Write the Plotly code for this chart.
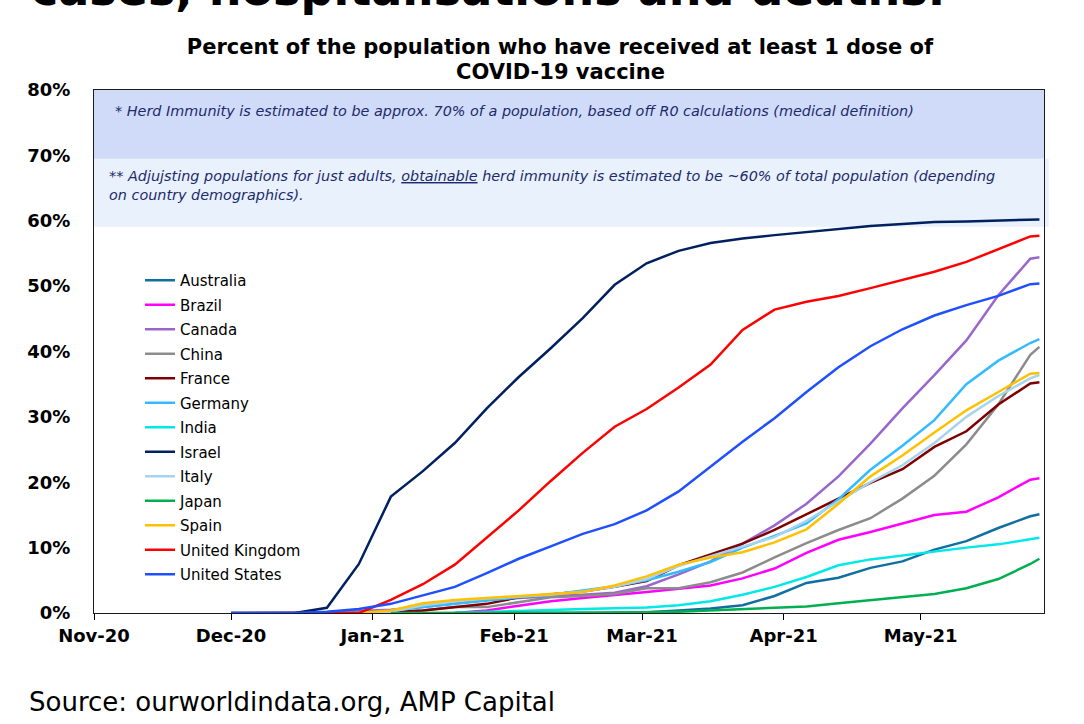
"""Share of population with at least one COVID-19 vaccine dose, by country."""

from __future__ import annotations

import plotly.graph_objects as go

# weekly readings, percent of total population
DATES = [
    "2020-12-01", "2020-12-08", "2020-12-15", "2020-12-22", "2020-12-29",
    "2021-01-05", "2021-01-12", "2021-01-19", "2021-01-26", "2021-02-02",
    "2021-02-09", "2021-02-16", "2021-02-23", "2021-03-02", "2021-03-09",
    "2021-03-16", "2021-03-23", "2021-03-30", "2021-04-06", "2021-04-13",
    "2021-04-20", "2021-04-27", "2021-05-04", "2021-05-11", "2021-05-18",
    "2021-05-25", "2021-05-27",
]
N = None

AUSTRALIA = [N] * 12 + [0.0, 0.1, 0.4, 0.7, 1.2, 2.6, 4.6, 5.4, 6.9, 7.9, 9.7, 11.0, 13.0, 14.8, 15.1]
BRAZIL = [N] * 7 + [0.0, 0.4, 1.1, 1.8, 2.3, 2.7, 3.2, 3.7, 4.2, 5.3, 6.8, 9.2, 11.2, 12.4, 13.7,
                    15.0, 15.5, 17.7, 20.4, 20.6]
CANADA = [0.0, 0.0, 0.01, 0.1, 0.3, 0.5, 0.9, 1.5, 2.0, 2.3, 2.5, 2.8, 3.1, 4.1, 5.9, 7.9, 10.6,
          13.4, 16.7, 20.9, 25.9, 31.3, 36.4, 41.7, 48.6, 54.2, 54.4]
CHINA = [N, N, 0.0, 0.05, 0.1, 0.2, 0.4, 0.9, 0.9, 1.7, 2.4, 2.6, 2.9, 3.8, 3.8, 4.7, 6.2, 8.5,
         10.7, 12.7, 14.5, 17.5, 21.0, 25.8, 31.9, 39.5, 40.7]
FRANCE = [N] * 4 + [0.0, 0.1, 0.4, 0.9, 1.4, 2.4, 2.9, 3.3, 4.0, 4.9, 7.3, 9.0, 10.6, 12.7, 15.1,
                    17.5, 19.9, 22.0, 25.4, 27.8, 31.9, 35.1, 35.3]
GERMANY = [N] * 4 + [0.05, 0.3, 0.9, 1.4, 2.0, 2.4, 2.8, 3.4, 4.1, 5.0, 6.3, 7.8, 10.0, 11.8,
                     13.7, 17.4, 21.9, 25.6, 29.5, 35.0, 38.6, 41.3, 41.9]
INDIA = [N] * 7 + [0.05, 0.15, 0.3, 0.45, 0.6, 0.7, 0.85, 1.2, 1.8, 2.8, 4.0, 5.5, 7.3, 8.2, 8.8,
                   9.5, 10.0, 10.5, 11.3, 11.5]
ISRAEL = [0.0, 0.0, 0.0, 0.8, 7.5, 17.8, 21.7, 26.0, 31.3, 36.1, 40.5, 45.1, 50.2, 53.5, 55.4,
          56.6, 57.3, 57.8, 58.3, 58.8, 59.2, 59.5, 59.8, 59.9, 60.0, 60.1, 60.2]
ITALY = [N] * 4 + [0.02, 0.2, 1.2, 1.8, 2.2, 2.5, 2.8, 3.3, 4.0, 5.2, 7.2, 8.7, 10.2, 11.6, 14.1,
                   17.1, 20.0, 22.6, 26.0, 30.0, 33.2, 35.9, 36.4]
JAPAN = [N] * 5 + [0.0] * 8 + [0.1, 0.2, 0.4, 0.6, 0.8, 1.0, 1.5, 2.0, 2.5, 2.9, 3.8, 5.2, 7.5, 8.3]
SPAIN = [N] * 4 + [0.0, 0.4, 1.5, 2.0, 2.3, 2.6, 2.8, 3.2, 4.2, 5.6, 7.4, 8.5, 9.3, 10.8, 12.8,
                   16.7, 20.9, 24.1, 27.6, 31.0, 33.8, 36.6, 36.7]
UK = [N, N, N, 0.0, 0.0, 2.0, 4.4, 7.4, 11.6, 15.7, 20.2, 24.5, 28.5, 31.2, 34.5, 38.0, 43.3,
      46.4, 47.6, 48.5, 49.7, 51.0, 52.2, 53.7, 55.7, 57.6, 57.7]
US = [0.0, 0.0, 0.0, 0.2, 0.6, 1.4, 2.7, 4.0, 6.1, 8.3, 10.2, 12.1, 13.6, 15.7, 18.6, 22.4, 26.2,
      29.8, 33.8, 37.6, 40.8, 43.4, 45.5, 47.1, 48.5, 50.3, 50.4]

SERIES = [
    ("Australia", AUSTRALIA, "#0f6fa0"),
    ("Brazil", BRAZIL, "#ff00ff"),
    ("Canada", CANADA, "#9966cc"),
    ("China", CHINA, "#8c8c8c"),
    ("France", FRANCE, "#7f0000"),
    ("Germany", GERMANY, "#33bbff"),
    ("India", INDIA, "#00e8e8"),
    ("Israel", ISRAEL, "#002060"),
    ("Italy", ITALY, "#a6d4ec"),
    ("Japan", JAPAN, "#00b050"),
    ("Spain", SPAIN, "#ffc000"),
    ("United Kingdom", UK, "#ff0000"),
    ("United States", US, "#1f4fff"),
]

HERD_BAND = (69.5, 80.0)
ADULT_BAND = (59.1, 69.5)

FONT = "DejaVu Sans, Arial, sans-serif"
NAVY = "#1c2b6b"

# plot area in page pixels
W, H = 1084, 724
L, R, T, B = 94, 1044, 90, 613


def py(px_y: float) -> float:
    """Page pixel row -> paper y."""
    return (B - px_y) / (B - T)


def px(px_x: float) -> float:
    return (px_x - L) / (R - L)


def build() -> go.Figure:
    fig = go.Figure()
    for name, values, color in SERIES:
        fig.add_trace(go.Scatter(
            x=DATES, y=values, name=name, mode="lines", legendgroup=name,
            line=dict(color=color, width=2.5), connectgaps=False,
        ))

    fig.add_shape(type="rect", xref="paper", yref="y", x0=0, x1=1.005,
                  y0=ADULT_BAND[0], y1=ADULT_BAND[1], fillcolor="#e9f1fd",
                  line_width=0, layer="below")
    fig.add_shape(type="rect", xref="paper", yref="y", x0=0, x1=1,
                  y0=HERD_BAND[0], y1=HERD_BAND[1], fillcolor="#d0dbf9",
                  line_width=0, layer="below")

    note = dict(xref="paper", yref="paper", showarrow=False, xanchor="left",
                align="left", font=dict(family=FONT, size=14.4, color=NAVY))
    fig.add_annotation(
        x=px(113), y=py(111), yanchor="middle",
        text="<i>* Herd Immunity is estimated to be approx. 70% of a population, "
             "based off R0 calculations (medical definition)</i>", **note)
    fig.add_annotation(
        x=px(107), y=py(185), yanchor="middle",
        text="<i>** Adjujsting populations for just adults, <u>obtainable</u> herd immunity "
             "is estimated to be ~60% of total population (depending<br>"
             "on country demographics).</i>", **note)

    # second title line, kept apart so the line gap matches the slide
    fig.add_annotation(
        x=px(560), y=py(72), xref="paper", yref="paper", showarrow=False,
        xanchor="center", yanchor="middle", text="<b>COVID-19 vaccine</b>",
        font=dict(family=FONT, size=21, color="#000000"))

    # slide heading cut off by the top edge, and the source line
    fig.add_annotation(
        x=px(29), y=py(-11), xref="paper", yref="paper", showarrow=False,
        xanchor="left", yanchor="middle", text="<b>cases, hospitalisations and deaths.</b>",
        font=dict(family=FONT, size=46, color="#000000"))
    fig.add_annotation(
        x=px(27), y=py(702), xref="paper", yref="paper", showarrow=False,
        xanchor="left", yanchor="middle", text="Source: ourworldindata.org, AMP Capital",
        font=dict(family=FONT, size=26, color="#000000"))

    fig.update_layout(
        width=W, height=H,
        margin=dict(l=L, r=W - R, t=T, b=H - B),
        paper_bgcolor="white", plot_bgcolor="white",
        font=dict(family=FONT, color="#000000"),
        title=dict(
            text="<b>Percent of the population who have received at least 1 dose of</b>",
            x=560 / W, xanchor="center", y=1 - 47 / H, yanchor="middle",
            xref="container", yref="container",
            font=dict(family=FONT, size=21, color="#000000"),
        ),
        showlegend=True,
        legend=dict(
            x=px(140), y=py(264), xanchor="left", yanchor="top",
            bgcolor="rgba(0,0,0,0)", font=dict(family=FONT, size=15, color="#000000"),
            traceorder="grouped", tracegroupgap=2,
        ),
    )
    fig.update_xaxes(
        type="date", range=["2020-11-01", "2021-05-28"],
        dtick="M1", tick0="2020-11-01", tickformat="%b-%y",
        ticks="outside", ticklen=6, tickcolor="#000000",
        showline=True, linecolor="#1a1a1a", linewidth=1, mirror=True,
        showgrid=False, zeroline=False,
        tickprefix="<b>", ticksuffix="</b>",
        tickfont=dict(family=FONT, size=18, color="#000000"),
    )
    fig.update_yaxes(
        range=[0, 80], dtick=10, tickprefix="<b>", ticksuffix="%</b>",
        ticks="", showline=True, linecolor="#1a1a1a", linewidth=1, mirror=True,
        showgrid=False, zeroline=False, ticklabelstandoff=19,
        tickfont=dict(family=FONT, size=18, color="#000000"),
    )
    return fig


def main() -> None:
    fig = build()
    # the page's default body margin would shift the figure by 8px
    fig.write_html(
        "out.html",
        config={"displayModeBar": False},
        post_script="document.body.style.margin='0px';",
    )


if __name__ == "__main__":
    main()
